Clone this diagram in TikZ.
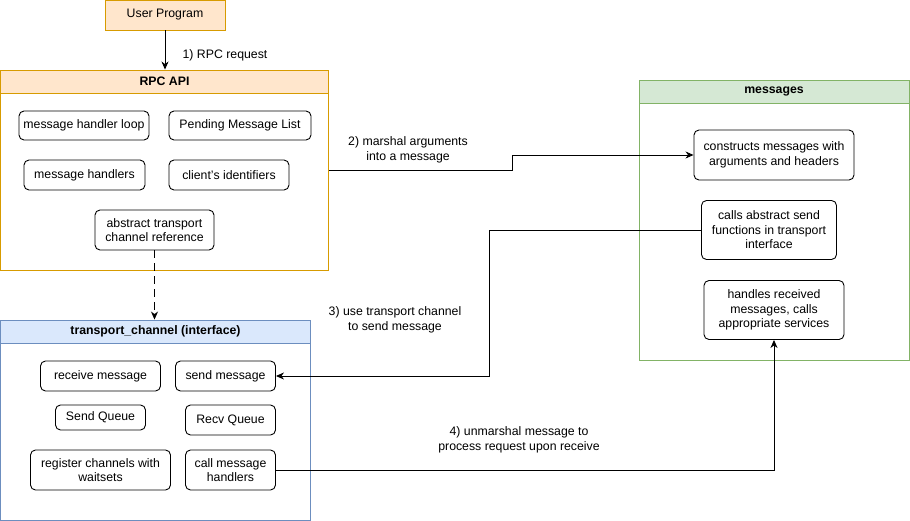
\documentclass[tikz,border=0pt]{standalone}
\usepackage{fontspec}
\setmainfont{Liberation Sans}
\usetikzlibrary{arrows.meta}

\begin{document}
\begin{tikzpicture}[x=1pt,y=-1pt]

	% INPUTS

	\newcommand{\hdrheight}{23};			% height of the title bar of a group
	\newcommand{\txtsize}{\fontsize{12.3}{14.5}\selectfont};	% text size of the whole drawing

	% colours
	\definecolor{orangefill}{HTML}{FFE6CC};
	\definecolor{orangeline}{HTML}{D79B00};
	\definecolor{bluefill}{HTML}{DAE8FC};
	\definecolor{blueline}{HTML}{6C8EBF};
	\definecolor{greenfill}{HTML}{D5E8D4};
	\definecolor{greenline}{HTML}{82B366};

	% page size, margins included
	\useasboundingbox (0,0) rectangle (910,521);

	% styles
	\tikzstyle{item}=[draw,rounded corners=5pt,align=center,inner sep=0pt,line width=.9pt,font=\txtsize];
	\tikzstyle{group}=[draw,inner sep=0pt,line width=.9pt,font=\txtsize];
	\tikzstyle{title}=[draw,inner sep=0pt,line width=.9pt,minimum height=\hdrheight,font=\txtsize\bfseries];
	\tikzstyle{conn}=[line width=.9pt,-{Stealth[length=8pt,width=7pt,inset=2.5pt]}];
	\tikzstyle{edgetext}=[align=center,inner sep=0pt,font=\txtsize];

	% user program on top
	\node[group,fill=orangefill,draw=orangeline,minimum width=120,minimum height=30] (user) at (165,15) {User Program};

	% RPC API group
	\node[group,draw=orangeline,fill=white,minimum width=328,minimum height=200] (rpc) at (164.5,170) {};
	\node[title,fill=orangefill,draw=orangeline,minimum width=328] (rpchead) at (164.5,81.5) {RPC API};

	\node[item,minimum width=130,minimum height=29] (loop) at (84,125.5) {message handler loop};
	\node[item,minimum width=142,minimum height=29] (pending) at (240,125.5) {Pending Message List};
	\node[item,minimum width=121,minimum height=30] (handlers) at (84.5,175) {message handlers};
	\node[item,minimum width=120,minimum height=30] (clients) at (229,175) {client's identifiers};
	\node[item,minimum width=119,minimum height=40] (chanref) at (154.5,230) {abstract transport\\channel reference};

	% transport channel group
	\node[group,draw=blueline,fill=white,minimum width=310,minimum height=200] (tp) at (155.5,420) {};
	\node[title,fill=bluefill,draw=blueline,minimum width=310] (tphead) at (155.5,331.5) {transport\_channel (interface)};

	\node[item,minimum width=120,minimum height=30] (recv) at (100.5,376) {receive message};
	\node[item,minimum width=100,minimum height=30] (send) at (225.5,376) {send message};
	\node[item,minimum width=90,minimum height=25] (sendq) at (100.5,417.5) {Send Queue};
	\node[item,minimum width=90,minimum height=30] (recvq) at (230.5,420) {Recv Queue};
	\node[item,minimum width=140,minimum height=40] (register) at (100.5,470) {register channels with\\waitsets};
	\node[item,minimum width=90,minimum height=40] (callh) at (230.5,470) {call message\\handlers};

	% messages group
	\node[group,draw=greenline,fill=white,minimum width=270,minimum height=280] (msg) at (774,220) {};
	\node[title,fill=greenfill,draw=greenline,minimum width=270] (msghead) at (774,91.5) {messages};

	\node[item,minimum width=160,minimum height=50] (construct) at (774,155) {constructs messages with\\arguments and headers};
	\node[item,minimum width=135,minimum height=59] (callsend) at (769,230) {calls abstract send\\functions in transport\\interface};
	\node[item,minimum width=140,minimum height=59] (received) at (774,310) {handles received\\messages, calls\\appropriate services};

	% connectors
	\draw[conn] (user.south) -- (user.south |- rpchead.north);
	\node[edgetext] (step1) at (225,55) {1) RPC request};

	\draw[conn,dash pattern=on 8pt off 5pt] (chanref.south) -- (chanref.south |- tphead.north);

	\draw[conn] (rpc.east) -- ++(183,0) |- (construct.west);
	\node[edgetext] (step2) at (408,150) {2) marshal arguments\\into a message};

	\draw[conn] (callsend.west) -- ++(-212,0) |- (send.east);
	\node[edgetext] (step3) at (395,320) {3) use transport channel\\to send message};

	\draw[conn] (callh.east) -| (received.south);
	\node[edgetext] (step4) at (519,440) {4) unmarshal message to\\process request upon receive};

\end{tikzpicture}
\end{document}
